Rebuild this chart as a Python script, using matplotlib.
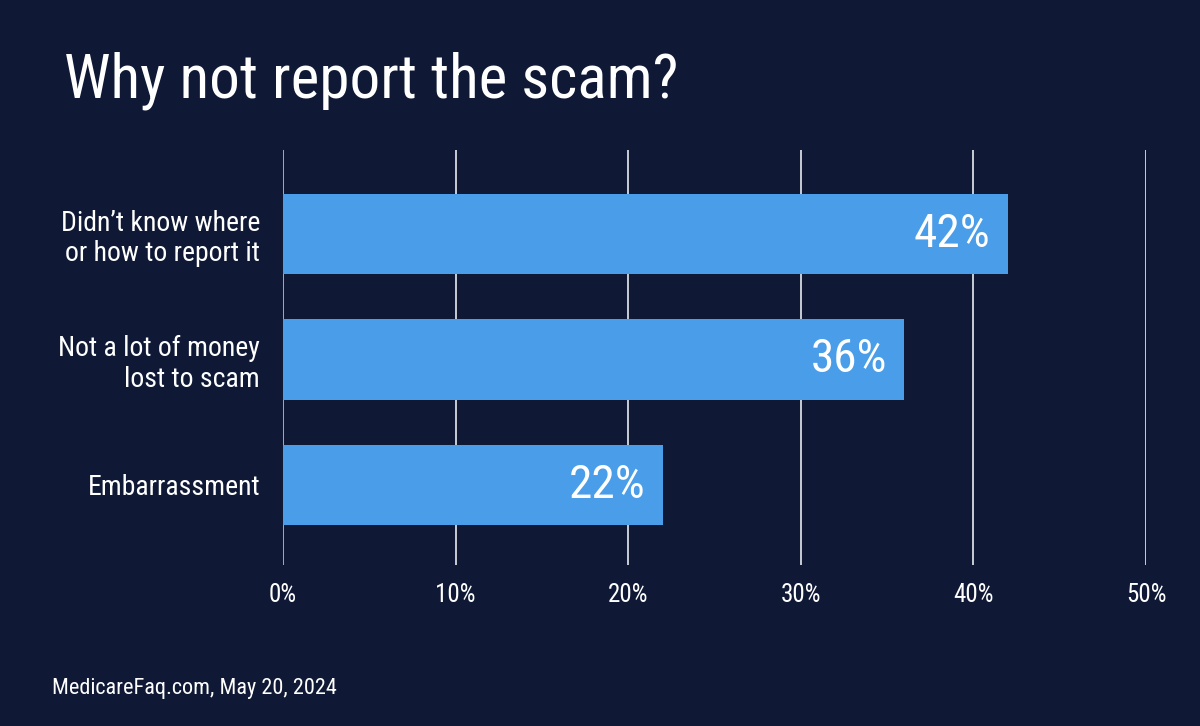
import matplotlib
matplotlib.use("Agg")
import matplotlib.pyplot as plt

categories = ["Didn\u2019t know where\nor how to report it",
              "Not a lot of money\nlost to scam",
              "Embarrassment"]
values = [42, 36, 22]
ticks = [0, 10, 20, 30, 40, 50]
tick_labels = ["0%", "10%", "20%", "30%", "40%", "50%"]

bg = "#0f1936"
bar_color = "#4a9de8"
plt.rcParams["font.family"] = ["Roboto Condensed", "Roboto", "DejaVu Sans"]

fig = plt.figure(figsize=(12, 7.26), dpi=100, facecolor=bg)
ax = fig.add_axes([283 / 1200, 1 - 565 / 726, (1146 - 283) / 1200, (565 - 150) / 726])
ax.set_facecolor(bg)

ypos = list(range(len(values)))
ax.barh(ypos, values, height=0.64, color=bar_color, zorder=3)

for y, v in zip(ypos, values):
    ax.text(v - 1.0, y, f"{v}%", ha="right", va="center", color="white",
            fontsize=34, zorder=4)

ax.set_xlim(0, 50)
ax.set_ylim(2.64, -0.67)
ax.set_xticks(ticks)
ax.set_xticklabels(tick_labels, color="white", fontsize=18)
ax.set_yticks(ypos)
ax.set_yticklabels(categories, color="white", fontsize=20, linespacing=1.15)
ax.tick_params(axis="both", length=0)
ax.tick_params(axis="y", pad=16.5)
ax.tick_params(axis="x", pad=13)
for lbl in ax.get_yticklabels():
    lbl.set_multialignment("right")

for t in ticks[1:]:
    ax.axvline(t, color="#c9ccd4", lw=1.4, zorder=1)
ax.axvline(0, color="#7fb3e6", lw=1.4, zorder=1)
for s in ax.spines.values():
    s.set_visible(False)

fig.text(64 / 1200, 1 - 98 / 726, "Why not report the scam?", color="white",
         fontsize=44, ha="left", va="baseline")
fig.text(52 / 1200, 1 - 694 / 726, "MedicareFaq.com, May 20, 2024", color="white",
         fontsize=16, ha="left", va="baseline")

fig.savefig("out.png", dpi=100, facecolor=bg)
